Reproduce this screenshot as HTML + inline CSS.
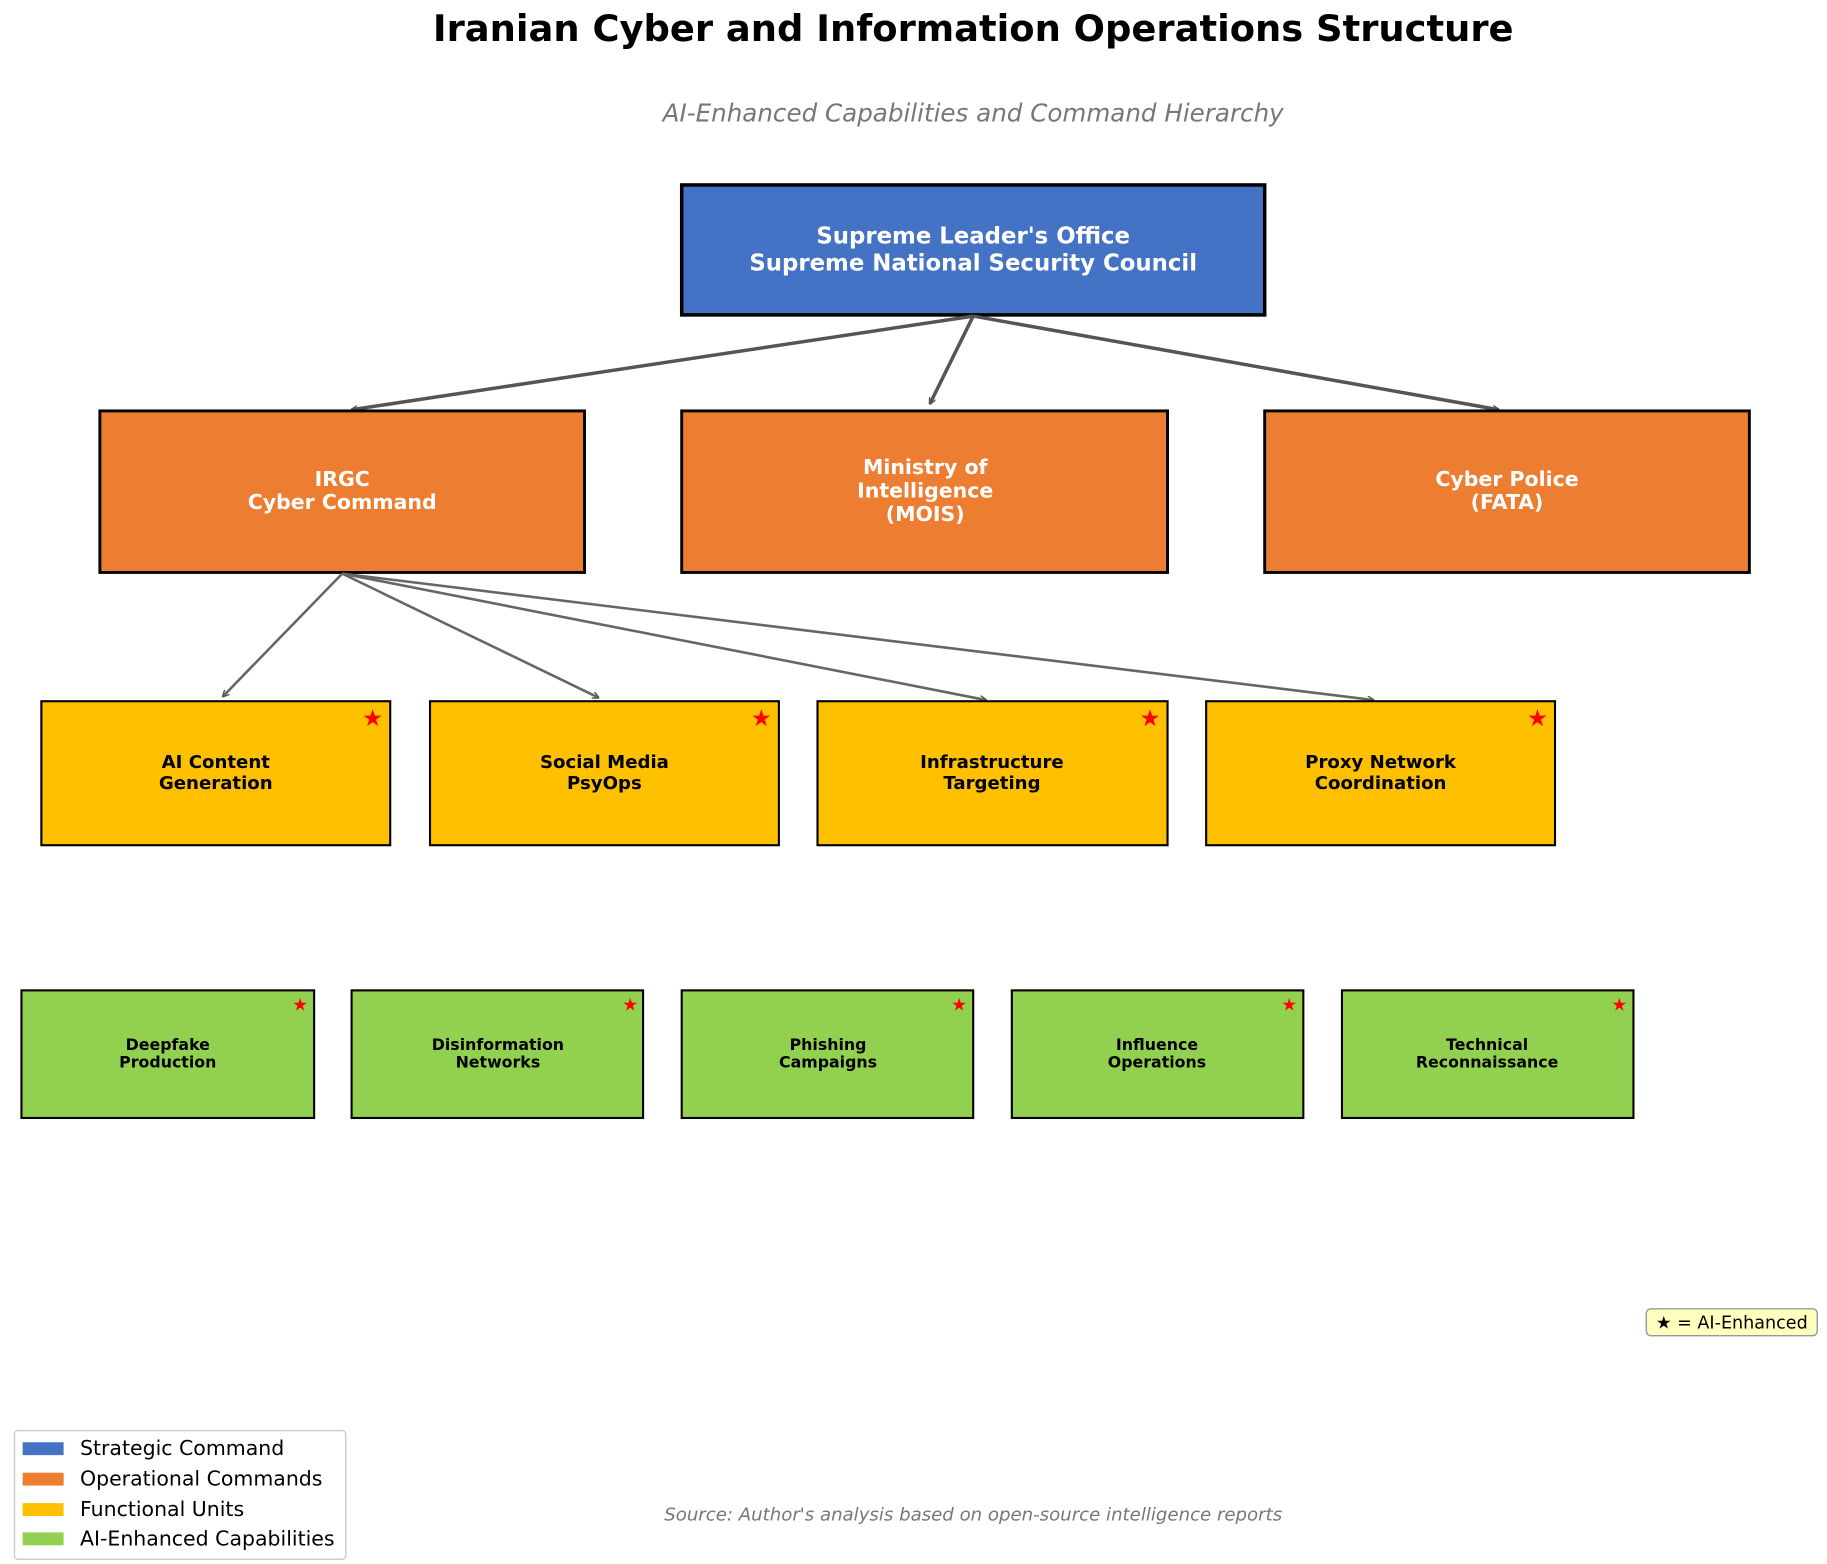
<!DOCTYPE html>
<html><head><meta charset="utf-8"><style>
html,body{margin:0;padding:0;background:#fff;}
svg{display:block;}
text{font-family:"DejaVu Sans","Liberation Sans",sans-serif;}
</style></head><body>
<svg width="1827" height="1564" viewBox="0 0 1560 1336" xmlns="http://www.w3.org/2000/svg">
<defs>
<marker id="ah" viewBox="0 0 10 10" refX="9" refY="5" markerWidth="6" markerHeight="6" orient="auto" markerUnits="userSpaceOnUse">
<path d="M0,0 L10,5 L0,10" fill="none" stroke="#555" stroke-width="2"/>
</marker>
</defs>
<text x="831" y="35" text-anchor="middle" font-size="31.5" font-weight="bold" fill="#000">Iranian Cyber and Information Operations Structure</text>
<text x="831" y="104" text-anchor="middle" font-size="21" font-style="italic" fill="#777">AI-Enhanced Capabilities and Command Hierarchy</text>

<rect x="582" y="158" width="498" height="111" fill="#4472C4" stroke="#000" stroke-width="3"/>
<text x="831" y="208" text-anchor="middle" font-size="19.5" font-weight="bold" fill="#fff">Supreme Leader's Office</text>
<text x="831" y="231" text-anchor="middle" font-size="19.5" font-weight="bold" fill="#fff">Supreme National Security Council</text>

<g stroke="#555" stroke-width="3" fill="none">
<line x1="831" y1="270" x2="300" y2="350" marker-end="url(#ah)"/>
<line x1="831" y1="270" x2="794" y2="345" marker-end="url(#ah)"/>
<line x1="831" y1="270" x2="1280" y2="350" marker-end="url(#ah)"/>
</g>

<g fill="#ED7D31" stroke="#000" stroke-width="2.5">
<rect x="85" y="351" width="414" height="138"/>
<rect x="582" y="351" width="415" height="138"/>
<rect x="1080" y="351" width="414" height="138"/>
</g>
<g font-size="17.5" font-weight="bold" fill="#fff" text-anchor="middle">
<text x="292" y="415">IRGC</text><text x="292" y="435">Cyber Command</text>
<text x="790" y="405">Ministry of</text><text x="790" y="425">Intelligence</text><text x="790" y="445">(MOIS)</text>
<text x="1287" y="415">Cyber Police</text><text x="1287" y="435">(FATA)</text>
</g>

<g stroke="#666" stroke-width="2.2" fill="none">
<line x1="292" y1="490" x2="190" y2="595" marker-end="url(#ah)"/>
<line x1="292" y1="490" x2="511" y2="596" marker-end="url(#ah)"/>
<line x1="292" y1="490" x2="842" y2="598" marker-end="url(#ah)"/>
<line x1="292" y1="490" x2="1173" y2="598" marker-end="url(#ah)"/>
</g>

<g fill="#FFC000" stroke="#000" stroke-width="1.8">
<rect x="35" y="599" width="298" height="123"/>
<rect x="367" y="599" width="298" height="123"/>
<rect x="698" y="599" width="299" height="123"/>
<rect x="1030" y="599" width="298" height="123"/>
</g>
<g font-size="15.5" font-weight="bold" fill="#000" text-anchor="middle">
<text x="184" y="656">AI Content</text><text x="184" y="674">Generation</text>
<text x="516" y="656">Social Media</text><text x="516" y="674">PsyOps</text>
<text x="847" y="656">Infrastructure</text><text x="847" y="674">Targeting</text>
<text x="1179" y="656">Proxy Network</text><text x="1179" y="674">Coordination</text>
</g>
<g fill="#f00" font-size="20" text-anchor="middle">
<text x="318" y="620">★</text><text x="650" y="620">★</text><text x="982" y="620">★</text><text x="1313" y="620">★</text>
</g>

<g fill="#92D050" stroke="#000" stroke-width="1.8">
<rect x="18" y="846" width="250" height="109"/>
<rect x="300" y="846" width="249" height="109"/>
<rect x="582" y="846" width="249" height="109"/>
<rect x="864" y="846" width="249" height="109"/>
<rect x="1146" y="846" width="249" height="109"/>
</g>
<g font-size="13.5" font-weight="bold" fill="#000" text-anchor="middle">
<text x="143" y="897">Deepfake</text><text x="143" y="912">Production</text>
<text x="425" y="897">Disinformation</text><text x="425" y="912">Networks</text>
<text x="707" y="897">Phishing</text><text x="707" y="912">Campaigns</text>
<text x="988" y="897">Influence</text><text x="988" y="912">Operations</text>
<text x="1270" y="897">Technical</text><text x="1270" y="912">Reconnaissance</text>
</g>
<g fill="#f00" font-size="15" text-anchor="middle">
<text x="256" y="863">★</text><text x="538" y="863">★</text><text x="819" y="863">★</text><text x="1101" y="863">★</text><text x="1383" y="863">★</text>
</g>

<rect x="1406" y="1118" width="146" height="23" rx="4" fill="#FFFFC0" stroke="#999" stroke-width="1.2"/>
<text x="1479" y="1135" text-anchor="middle" font-size="15" fill="#000">★ = AI-Enhanced</text>

<rect x="12" y="1222" width="283" height="110" rx="3" fill="#fff" stroke="#ccc" stroke-width="1.2"/>
<rect x="19" y="1232" width="35" height="11" fill="#4472C4"/>
<rect x="19" y="1258" width="35" height="11" fill="#ED7D31"/>
<rect x="19" y="1284" width="35" height="11" fill="#FFC000"/>
<rect x="19" y="1309" width="35" height="11" fill="#92D050"/>
<g font-size="17.5" fill="#000">
<text x="68" y="1243">Strategic Command</text>
<text x="68" y="1269">Operational Commands</text>
<text x="68" y="1295">Functional Units</text>
<text x="68" y="1320">AI-Enhanced Capabilities</text>
</g>

<text x="831" y="1299" text-anchor="middle" font-size="15.5" font-style="italic" fill="#777">Source: Author's analysis based on open-source intelligence reports</text>
</svg>
</body></html>
